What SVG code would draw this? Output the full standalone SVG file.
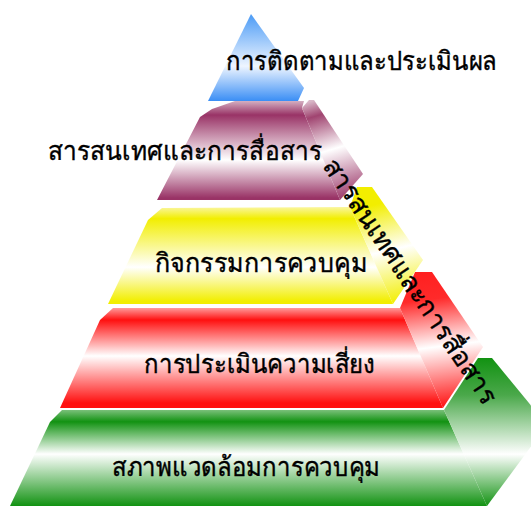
<svg xmlns="http://www.w3.org/2000/svg" width="531" height="506" viewBox="0 0 531 506">
<defs>
<linearGradient id="gBlue" gradientUnits="userSpaceOnUse" x1="0" y1="14" x2="0" y2="101">
<stop offset="0" stop-color="#4b9bf6"/><stop offset="0.6" stop-color="#eef5ff"/><stop offset="1" stop-color="#3a8ef5"/>
</linearGradient>
<linearGradient id="gMarF" gradientUnits="userSpaceOnUse" x1="0" y1="100" x2="0" y2="200">
<stop offset="0" stop-color="#d8b8c8"/><stop offset="0.15" stop-color="#993366"/><stop offset="0.6" stop-color="#ffffff"/><stop offset="0.98" stop-color="#993366"/>
</linearGradient>
<linearGradient id="gMarS" gradientUnits="userSpaceOnUse" x1="315" y1="100" x2="345" y2="200">
<stop offset="0" stop-color="#d9b8c8"/><stop offset="0.15" stop-color="#a04470"/><stop offset="0.5" stop-color="#ffffff"/><stop offset="1" stop-color="#993366"/>
</linearGradient>
<linearGradient id="gYelF" gradientUnits="userSpaceOnUse" x1="0" y1="207" x2="0" y2="304">
<stop offset="0" stop-color="#faf6a0"/><stop offset="0.12" stop-color="#f2ee00"/><stop offset="0.62" stop-color="#ffffff"/><stop offset="0.97" stop-color="#f2ee00"/>
</linearGradient>
<linearGradient id="gYelS" gradientUnits="userSpaceOnUse" x1="368" y1="188" x2="395" y2="304">
<stop offset="0" stop-color="#f2ee00"/><stop offset="0.15" stop-color="#f2ee00"/><stop offset="0.55" stop-color="#ffffff"/><stop offset="1" stop-color="#f2ee00"/>
</linearGradient>
<linearGradient id="gRedF" gradientUnits="userSpaceOnUse" x1="0" y1="308" x2="0" y2="408">
<stop offset="0" stop-color="#ff9a9a"/><stop offset="0.12" stop-color="#ff1010"/><stop offset="0.48" stop-color="#ffffff"/><stop offset="0.95" stop-color="#ff1010"/>
</linearGradient>
<linearGradient id="gRedS" gradientUnits="userSpaceOnUse" x1="428" y1="272" x2="445" y2="408">
<stop offset="0" stop-color="#ff2020"/><stop offset="0.2" stop-color="#ff2a2a"/><stop offset="0.55" stop-color="#ffffff"/><stop offset="1" stop-color="#ff1010"/>
</linearGradient>
<linearGradient id="gGrnF" gradientUnits="userSpaceOnUse" x1="0" y1="408" x2="0" y2="506">
<stop offset="0" stop-color="#8cc88c"/><stop offset="0.14" stop-color="#129212"/><stop offset="0.47" stop-color="#ffffff"/><stop offset="1" stop-color="#129212"/>
</linearGradient>
<linearGradient id="gGrnS" gradientUnits="userSpaceOnUse" x1="488" y1="358" x2="488" y2="506">
<stop offset="0" stop-color="#129212"/><stop offset="0.25" stop-color="#4aa84a"/><stop offset="0.65" stop-color="#ffffff"/><stop offset="1" stop-color="#129212"/>
</linearGradient>
</defs>
<style>
.t{font-family:"Noto Sans","DejaVu Sans",sans-serif;font-size:26px;fill:#000;stroke:#000;stroke-width:0.4px;}
</style>
<g id="layer-green">
<polygon points="50,422 62,410 444,410 487,506 10,506" fill="url(#gGrnF)"/>
<polygon points="444,410 478,358 492,358 547,425 487,506" fill="url(#gGrnS)"/>
<text class="t" x="112" y="476" textLength="268" lengthAdjust="spacingAndGlyphs">สภาพแวดล้อมการควบคุม</text>
</g>
<g id="layer-red">
<polygon points="100,320 113,308 400,308 443,408 60,408" fill="url(#gRedF)"/>
<polygon points="400,308 415,272 432,272 483,347 443,408" fill="url(#gRedS)"/>
<text class="t" x="144" y="373" textLength="231" lengthAdjust="spacingAndGlyphs">การประเมินความเสี่ยง</text>
</g>
<g id="layer-yellow">
<polygon points="148,220 162,208 350,207 393,304 108,304" fill="url(#gYelF)"/>
<polygon points="350,207 357,187 372,187 423,260 393,304" fill="url(#gYelS)"/>
<text class="t" x="155" y="272" textLength="212" lengthAdjust="spacingAndGlyphs">กิจกรรมการควบคุม</text>
</g>
<g id="layer-maroon">
<polygon points="200,117 212,109 235,101 304,101 302,108 340,200 157,200" fill="url(#gMarF)"/>
<polygon points="302,108 309,100 314,100 363,174 340,200" fill="url(#gMarS)"/>
<text class="t" x="48" y="160" textLength="274" lengthAdjust="spacingAndGlyphs">สารสนเทศและการสื่อสาร</text>
</g>
<g id="layer-blue">
<polygon points="251,14 304,88 298,101 208,101" fill="url(#gBlue)"/>
<text class="t" x="226" y="70" textLength="271" lengthAdjust="spacingAndGlyphs">การติดตามและประเมินผล</text>
</g>
<g id="side-label">
<text class="t" x="-145" y="0" textLength="290" lengthAdjust="spacingAndGlyphs" transform="translate(403,286) rotate(56.2)">สารสนเทศและการสื่อสาร</text>
</g>
</svg>
